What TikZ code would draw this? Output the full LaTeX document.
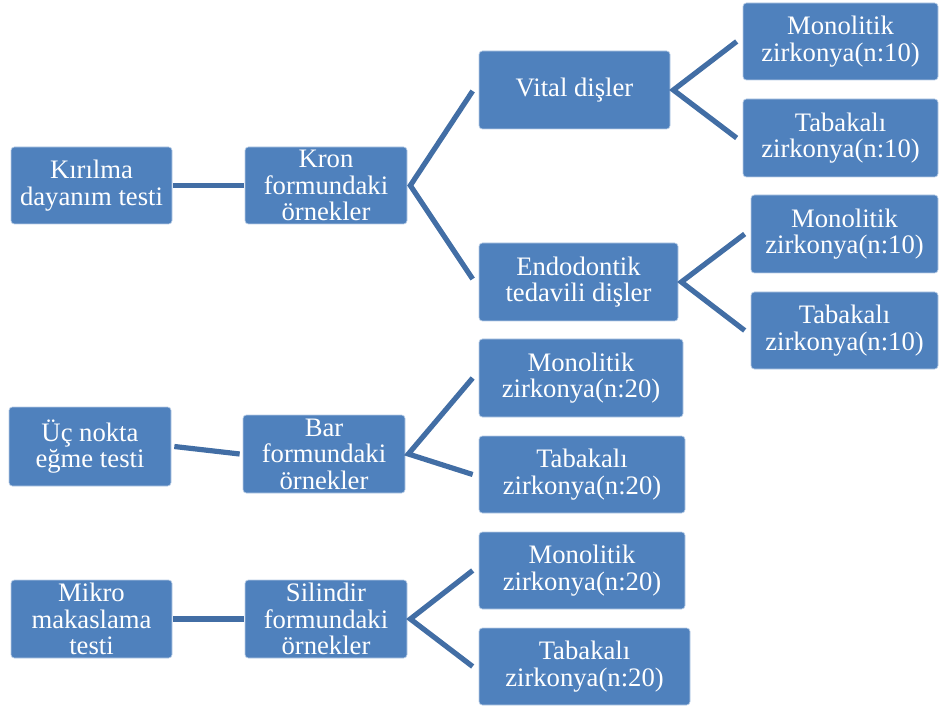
\documentclass[tikz,border=0pt]{standalone}
\usepackage{fontspec}
\setmainfont{Liberation Serif}
\definecolor{boxblue}{RGB}{79,129,189}
\definecolor{edgeblue}{RGB}{185,205,230}
\definecolor{connblue}{RGB}{66,110,165}
\begin{document}
\begin{tikzpicture}[x=0.75pt,y=-0.75pt,
  box/.style 2 args={rectangle, rounded corners=2.5pt, fill=boxblue, draw=edgeblue, line width=0.5pt,
    text=white, align=center, inner sep=0pt,
    font=\fontsize{20}{19.9}\selectfont,
    minimum width={#1*0.75pt}, minimum height={#2*0.75pt}},
  conn/.style={draw=connblue, line width=3.9pt, line join=miter}]
\useasboundingbox (0,0) rectangle (939,709);
% column 1
\node[box={161}{77}] (kir) at (91.5,185.5) {Kırılma\\dayanım testi};
\node[box={162}{79}] (uc) at (90,446.5) {Üç nokta\\eğme testi};
\node[box={161}{78}] (mik) at (91.5,619) {Mikro\\makaslama\\testi};
% column 2
\node[box={162}{77}] (kron) at (326,185.5) {Kron\\formundaki\\örnekler};
\node[box={162}{78}] (bar) at (324,454) {Bar\\formundaki\\örnekler};
\node[box={162}{78}] (sil) at (326,619) {Silindir\\formundaki\\örnekler};
% column 3
\node[box={191}{78}] (vital) at (574.5,90) {Vital dişler};
\node[box={199}{78}] (endo) at (578.5,282) {Endodontik\\tedavili dişler};
\node[box={204}{78}] (m3) at (581,378) {Monolitik\\zirkonya(n:20)};
\node[box={206}{77}] (t3) at (582,474.5) {Tabakalı\\zirkonya(n:20)};
\node[box={206}{77}] (m4) at (582,570.5) {Monolitik\\zirkonya(n:20)};
\node[box={211}{77}] (t4) at (584.5,666.5) {Tabakalı\\zirkonya(n:20)};
% column 4
\node[box={195}{77}] (m1) at (840.5,41.5) {Monolitik\\zirkonya(n:10)};
\node[box={195}{78}] (t1) at (840.5,138) {Tabakalı\\zirkonya(n:10)};
\node[box={187}{78}] (m2) at (844.5,234) {Monolitik\\zirkonya(n:10)};
\node[box={187}{77}] (t2) at (844.5,330.5) {Tabakalı\\zirkonya(n:10)};
% connectors
\draw[conn] ([xshift=0.75pt]kir.east) -- ([xshift=-0.75pt]kron.west);
\draw[conn] ([xshift=2.25pt]uc.east) -- ([xshift=-2.25pt]bar.west);
\draw[conn] ([xshift=0.75pt]mik.east) -- ([xshift=-0.75pt]sil.west);
\draw[conn] ([xshift=-4.5pt,yshift=-0.75pt]vital.west) -- ([xshift=2.25pt]kron.east) -- ([xshift=-4.5pt,yshift=2.25pt]endo.west);
\draw[conn] ([xshift=-4.5pt]m3.west) -- ([xshift=2.25pt]bar.east) -- ([xshift=-4.5pt]t3.west);
\draw[conn] ([xshift=-4.5pt]m4.west) -- ([xshift=2.25pt]sil.east) -- ([xshift=-4.5pt]t4.west);
\draw[conn] ([xshift=-4.5pt]m1.west) -- ([xshift=2.25pt]vital.east) -- ([xshift=-4.5pt]t1.west);
\draw[conn] ([xshift=-4.5pt]m2.west) -- ([xshift=2.25pt]endo.east) -- ([xshift=-4.5pt]t2.west);
\end{tikzpicture}
\end{document}
